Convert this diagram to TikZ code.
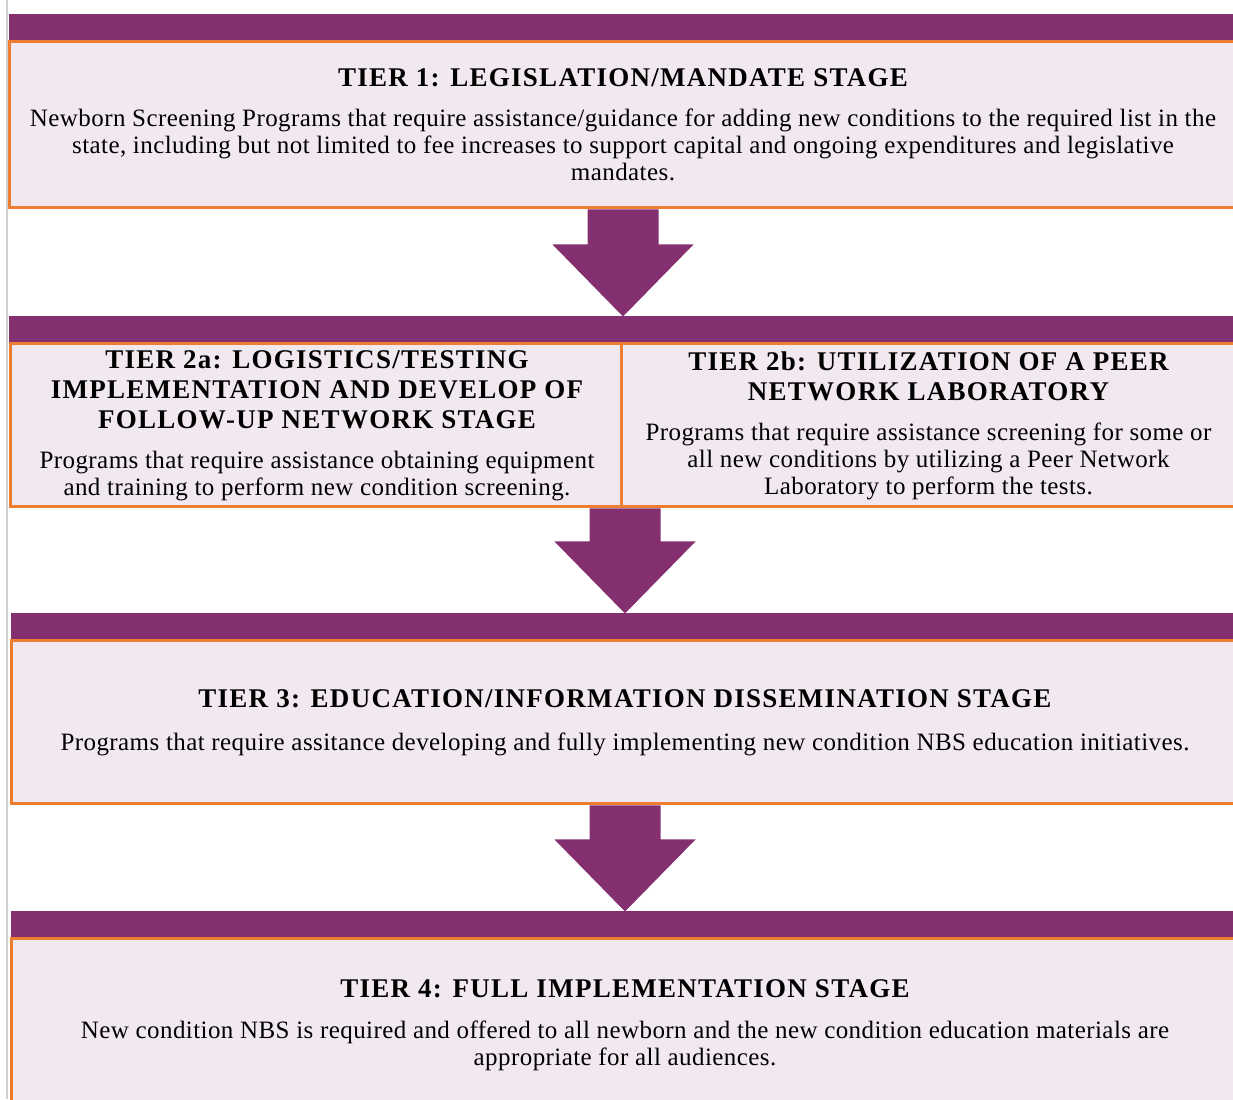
\documentclass[tikz,border=0pt]{standalone}
\usepackage{fontspec}
\setmainfont{Liberation Serif}
\newfontfamily\tierbodyfont[LetterSpace=1.7]{Liberation Serif}
\newfontfamily\tiertitlefont[LetterSpace=4.7]{Liberation Serif}
\usetikzlibrary{calc, positioning}

\definecolor{tierpurple}{RGB}{132,48,112}
\definecolor{tierfill}{RGB}{242,232,240}
\definecolor{tierorange}{RGB}{237,125,49}

\tikzstyle{tier}=[
rectangle,
draw=tierorange,
fill=tierfill,
line width=1.5pt,
minimum width=614pt,
minimum height=83pt,
inner sep=0pt,
align=center,
font=\tierbodyfont\fontsize{12.5}{13.5}\selectfont,
]
\tikzstyle{half-tier}=[tier, minimum width=307pt, minimum height=81.5pt]
\tikzstyle{tier-bar}=[
rectangle,
fill=tierpurple,
minimum width=614pt,
minimum height=13pt,
inner sep=0pt,
outer sep=0pt,
]

\newcommand{\tiertitle}[1]{{\tiertitlefont\fontsize{13.5}{15}\selectfont\bfseries #1}}
\newcommand{\tierarrow}[2]{%
  \fill[tierpurple] let \p1=(#1), \p2=(#2) in
    (\x1-17.75pt,\y1) -- (\x1+17.75pt,\y1) -- (\x1+17.75pt,\y2+36pt)
    -- (\x1+35.25pt,\y2+36pt) -- (\x1,\y2) -- (\x1-35.25pt,\y2+36pt)
    -- (\x1-17.75pt,\y2+36pt) -- cycle;}

\begin{document}
\begin{tikzpicture}[x=0.5pt, y=0.5pt]
        \useasboundingbox (0,0) rectangle (1233,1099);
        \draw[black!18, line width=1pt] (7,0) -- (7,1099);

        \node[tier] (t1) at (623,974) {%
          \tiertitle{TIER 1: LEGISLATION/MANDATE STAGE}\\[6.5pt]
          Newborn Screening Programs that require assistance/guidance for adding new conditions to the required list in the\\
          state, including but not limited to fee increases to support capital and ongoing expenditures and legislative\\
          mandates.};
        \node[tier-bar, above=0pt of t1] (b1) {};
        \node[tier-bar, below=53.5pt of t1] (b2) {};

        \node[half-tier, anchor=north west, minimum width=306.5pt] (t2a) at (b2.south west) {%
          \tiertitle{TIER 2a: LOGISTICS/TESTING}\\[1.5pt]
          \tiertitle{IMPLEMENTATION AND DEVELOP OF}\\[1.5pt]
          \tiertitle{FOLLOW-UP NETWORK STAGE}\\[6.5pt]
          Programs that require assistance obtaining equipment\\
          and training to perform new condition screening.};
        \node[half-tier, anchor=north east] (t2b) at (b2.south east) {%
          \tiertitle{TIER 2b: UTILIZATION OF A PEER}\\[1.5pt]
          \tiertitle{NETWORK LABORATORY}\\[6.5pt]
          Programs that require assistance screening for some or\\
          all new conditions by utilizing a Peer Network\\
          Laboratory to perform the tests.};

        \node[tier-bar, below=52.5pt of t2a.south east] (b3) {};
        \node[tier, below=0pt of b3, minimum height=81.5pt] (t3) {%
          \tiertitle{TIER 3: EDUCATION/INFORMATION DISSEMINATION STAGE}\\[8pt]
          Programs that require assitance developing and fully implementing new condition NBS education initiatives.};

        \node[tier-bar, below=53pt of t3] (b4) {};
        \node[tier, below=0pt of b4, minimum height=86pt] (t4) {%
          \tiertitle{TIER 4: FULL IMPLEMENTATION STAGE}\\[7pt]
          New condition NBS is required and offered to all newborn and the new condition education materials are\\
          appropriate for all audiences.};

        \tierarrow{t1.south}{b2.north}
        \tierarrow{t2a.south east}{b3.north}
        \tierarrow{t3.south}{b4.north}
      \end{tikzpicture}
\end{document}
